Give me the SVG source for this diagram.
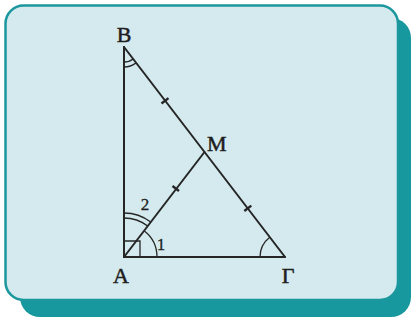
<svg xmlns="http://www.w3.org/2000/svg" width="413" height="320" viewBox="0 0 413 320">
  <style>
    .seg { stroke: #262626; stroke-width: 2; fill: none; stroke-linecap: round; }
    .mark { stroke: #262626; stroke-width: 1.3; fill: none; }
    .tick { stroke: #262626; stroke-width: 2.4; fill: none; }
    .lbl { font-family: "Liberation Serif", "Times New Roman", serif; font-size: 22px; fill: #1e1e1e; stroke: #1e1e1e; stroke-width: 0.5; }
    .num { font-family: "Liberation Serif", "Times New Roman", serif; font-size: 17px; fill: #1e1e1e; stroke: #1e1e1e; stroke-width: 0.3; }
  </style>
  <rect width="413" height="320" fill="#ffffff"/>
  <g id="frame">
    <rect x="20" y="18" width="391" height="299" rx="20" fill="#17989e"/>
    <rect x="5.5" y="5.5" width="392.5" height="294.5" rx="18" fill="#d4eaee" stroke="#1c979d" stroke-width="2.5"/>
  </g>
  <g id="connectors">
    <line class="seg" x1="124" y1="47" x2="124" y2="257"/>
    <line class="seg" x1="124" y1="257" x2="285" y2="257"/>
    <line class="seg" x1="124" y1="47" x2="285" y2="257"/>
    <line class="seg" x1="124" y1="257" x2="204.5" y2="152"/>
  </g>
  <g id="angle-marks">
    <path class="mark" d="M124,62 A15,15 0 0 0 133.13,58.91"/>
    <path class="mark" d="M124,67 A20,20 0 0 0 136.17,62.87"/>
    <path class="mark" d="M124,218 A39,39 0 0 1 147.73,226.05"/>
    <path class="mark" d="M124,213 A44,44 0 0 1 150.77,222.08"/>
    <path class="mark" d="M144.08,230.81 A33,33 0 0 1 157,257"/>
    <path class="mark" d="M124,241 H140 V257"/>
    <path class="mark" d="M260,257 A25,25 0 0 1 269.79,237.16"/>
  </g>
  <g id="ticks">
    <line class="tick" x1="161.5" y1="103.5" x2="168.5" y2="98.1"/>
    <line class="tick" x1="172.5" y1="186" x2="179" y2="191"/>
    <line class="tick" x1="244.3" y1="211" x2="251.3" y2="205.6"/>
  </g>
  <g id="node-B"><text class="lbl" x="124" y="42" text-anchor="middle">B</text></g>
  <g id="node-A"><text class="lbl" x="121" y="283" text-anchor="middle">A</text></g>
  <g id="node-G"><text class="lbl" x="288" y="283" text-anchor="middle">Γ</text></g>
  <g id="node-M"><text class="lbl" x="207" y="151">M</text></g>
  <g id="angle-labels">
    <text class="num" x="145" y="210" text-anchor="middle">2</text>
    <text class="num" x="161" y="250" text-anchor="middle">1</text>
  </g>
</svg>
